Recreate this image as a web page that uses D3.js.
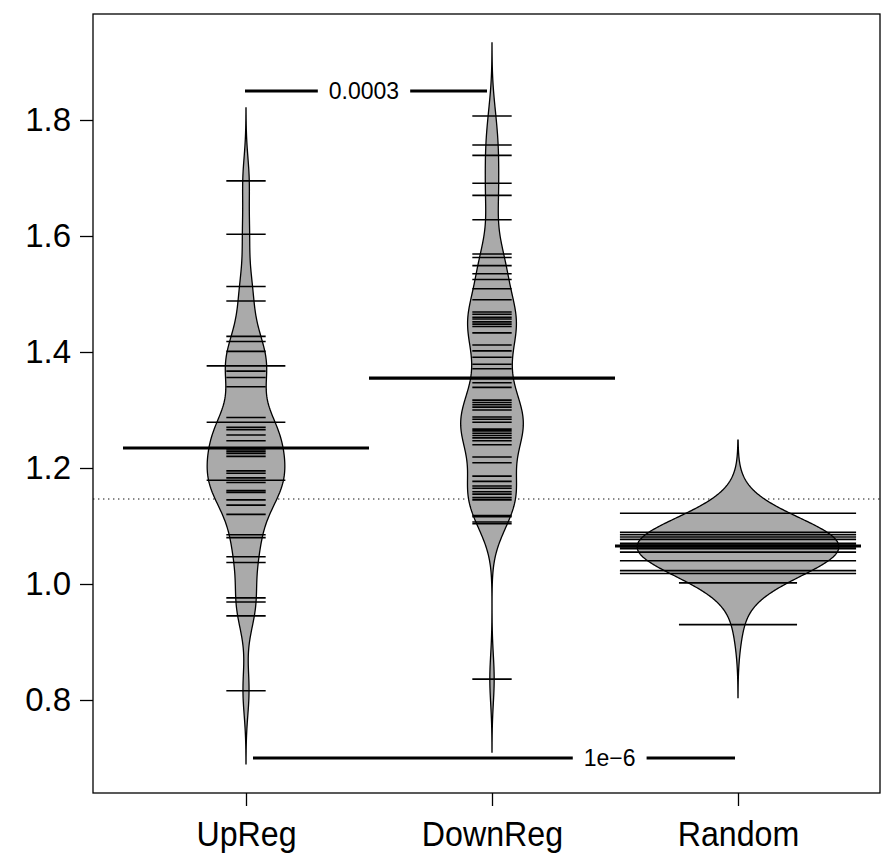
<!DOCTYPE html>
<html>
<head>
<meta charset="utf-8">
<script src="https://cdn.jsdelivr.net/npm/d3@7"></script>
<style>
body { margin: 0; background: #fff; }
svg text { font-family: "Liberation Sans", Arial, sans-serif; fill: #000; }
</style>
</head>
<body>
<div id="svgcontainer"></div>
<script>
// groups on the x axis
const categories = ["UpReg", "DownReg", "Random"];
// [value, number of observations at that value]
const upReg = [
    [1.695, 1], [1.603, 1], [1.513, 1], [1.488, 1], [1.427, 1], [1.418, 1], [1.401, 1],
    [1.376, 2], [1.367, 1], [1.356, 1], [1.340, 1], [1.287, 1], [1.279, 2], [1.270, 1],
    [1.266, 1], [1.257, 1], [1.247, 1], [1.231, 1], [1.228, 1], [1.225, 1], [1.220, 1],
    [1.195, 1], [1.191, 1], [1.183, 1], [1.179, 2], [1.175, 1], [1.161, 1], [1.158, 1],
    [1.145, 1], [1.136, 1], [1.120, 1], [1.085, 1], [1.080, 1], [1.047, 1], [1.037, 1],
    [0.976, 1], [0.969, 1], [0.945, 1], [0.816, 1]
];
const downReg = [
    [1.807, 1], [1.757, 1], [1.739, 1], [1.691, 1], [1.670, 1], [1.628, 1], [1.569, 1],
    [1.563, 1], [1.549, 1], [1.535, 1], [1.525, 1], [1.509, 1], [1.490, 1], [1.469, 1],
    [1.465, 1], [1.460, 1], [1.457, 1], [1.452, 1], [1.448, 1], [1.444, 1], [1.433, 1],
    [1.412, 1], [1.402, 1], [1.391, 1], [1.379, 1], [1.371, 1], [1.347, 1], [1.339, 1],
    [1.317, 1], [1.313, 1], [1.309, 1], [1.305, 1], [1.300, 1], [1.288, 1], [1.284, 1],
    [1.279, 1], [1.267, 1], [1.264, 1], [1.260, 1], [1.256, 1], [1.252, 1], [1.247, 1],
    [1.240, 1], [1.219, 1], [1.209, 1], [1.186, 1], [1.177, 1], [1.169, 1], [1.165, 1],
    [1.159, 1], [1.155, 1], [1.149, 1], [1.145, 1], [1.118, 1], [1.116, 1], [1.107, 1],
    [1.104, 1], [0.836, 1]
];
const random = [
    [1.122, 8], [1.089, 7], [1.085, 7], [1.081, 7], [1.077, 7], [1.070, 8], [1.067, 8],
    [1.064, 8], [1.061, 7], [1.055, 7], [1.040, 8], [1.023, 8], [1.018, 8], [1.002, 3],
    [0.930, 3]
];
const medians = [1.2345, 1.355, 1.0655];
const overallLine = 1.1466;
const yTicks = [0.8, 1.0, 1.2, 1.4, 1.6, 1.8];
// p-value brackets: from group, to group, height, label
const brackets = [
    { from: "UpReg", to: "DownReg", level: 1.85, label: "0.0003" },
    { from: "UpReg", to: "Random", level: 0.70, label: "1e\u22126" }
];
const bandwidth = 0.042;

let width = 884;
let height = 854;
let box = { left: 93, right: 880, top: 14, bottom: 793 };

let svg = d3.select("#svgcontainer")
    .append('svg')
    .attr('width', width)
    .attr('height', height);

let x = d3.scalePoint()
    .domain(categories)
    .range([246, 738]);
let y = d3.scaleLinear()
    .domain([0.8, 1.8])
    .range([700, 120]);
let step = x.step();

let groups = [upReg, downReg, random].map((data, i) => ({ name: categories[i], data: data, median: medians[i] }));

// gaussian kernel density, cut at 3 bandwidths like beanplot
groups.forEach(g => {
    let n = d3.sum(g.data, d => d[1]);
    let lo = d3.min(g.data, d => d[0]) - 3 * bandwidth;
    let hi = d3.max(g.data, d => d[0]) + 3 * bandwidth;
    g.density = d3.range(0, 301).map(k => {
        let t = lo + (hi - lo) * k / 300;
        let s = d3.sum(g.data, d => d[1] * Math.exp(-0.5 * Math.pow((t - d[0]) / bandwidth, 2)));
        return { t: t, d: s / (n * bandwidth * Math.sqrt(2 * Math.PI)) };
    });
});
let maxDensity = d3.max(groups, g => d3.max(g.density, d => d.d));
let w = d3.scaleLinear().domain([0, maxDensity]).range([0, 0.41 * step]);

// overall line (behind the beans)
svg.append('line')
    .attr('x1', box.left).attr('x2', box.right)
    .attr('y1', y(overallLine)).attr('y2', y(overallLine))
    .attr('stroke', '#111')
    .attr('stroke-width', 1.1)
    .attr('stroke-dasharray', '1.4,3.6');

let beans = svg.selectAll('g.bean')
    .data(groups)
    .enter()
    .append('g')
    .attr('class', 'bean')
    .attr('transform', d => 'translate(' + x(d.name) + ',0)');

beans.append('path')
    .attr('d', g => d3.area()
        .y(d => y(d.t))
        .x0(d => -w(d.d))
        .x1(d => w(d.d))(g.density))
    .attr('fill', '#aaaaaa')
    .attr('stroke', '#000')
    .attr('stroke-width', 1.3);

beans.each(function (g) {
    d3.select(this).selectAll('line.beanline')
        .data(g.data)
        .enter()
        .append('line')
        .attr('class', 'beanline')
        .attr('x1', d => -Math.min(d[1] * 0.16, 0.96) * step / 2)
        .attr('x2', d => Math.min(d[1] * 0.16, 0.96) * step / 2)
        .attr('y1', d => y(d[0]))
        .attr('y2', d => y(d[0]))
        .attr('stroke', '#000')
        .attr('stroke-width', 1.6);
});

beans.append('line')
    .attr('x1', -step / 2).attr('x2', step / 2)
    .attr('y1', g => y(g.median)).attr('y2', g => y(g.median))
    .attr('stroke', '#000')
    .attr('stroke-width', 3.2);

// brackets with the p-value in a gap
brackets.forEach((b, i) => {
    let x0 = x(b.from) + (i === 0 ? -1 : 7);
    let x1 = x(b.to) - (i === 0 ? 5 : 3);
    let tx = i === 0 ? (x0 + x1) / 2 - 2 : x0 + (x1 - x0) * 0.74;
    let g = svg.append('g').attr('class', 'bracket');
    g.append('line')
        .attr('x1', x0).attr('x2', x1)
        .attr('y1', y(b.level)).attr('y2', y(b.level))
        .attr('stroke', '#000')
        .attr('stroke-width', 3.2);
    let t = g.append('text')
        .attr('x', tx)
        .attr('y', y(b.level))
        .attr('dy', '0.35em')
        .attr('text-anchor', 'middle')
        .style('font-size', '23px')
        .text(b.label);
    let tw = t.node().getComputedTextLength();
    g.insert('rect', 'text')
        .attr('x', tx - tw / 2 - 11)
        .attr('width', tw + 22)
        .attr('y', y(b.level) - 5)
        .attr('height', 10)
        .attr('fill', '#fff');
});

// frame and axes
svg.append('rect')
    .attr('x', box.left).attr('y', box.top)
    .attr('width', box.right - box.left)
    .attr('height', box.bottom - box.top)
    .attr('fill', 'none')
    .attr('stroke', '#000')
    .attr('stroke-width', 1.3);

let yAxis = svg.append('g')
    .attr('class', 'yaxis axis')
    .attr('transform', 'translate(' + box.left + ',0)')
    .call(d3.axisLeft(y).tickValues(yTicks).tickSize(13).tickPadding(9).tickFormat(d3.format('.1f')));
yAxis.select('.domain').remove();
yAxis.selectAll('text').style('font-size', '33px');

let xAxis = svg.append('g')
    .attr('class', 'xaxis axis')
    .attr('transform', 'translate(0,' + box.bottom + ')')
    .call(d3.axisBottom(x).tickSize(13).tickPadding(15));
xAxis.select('.domain').remove();
xAxis.selectAll('text')
    .style('font-size', '35px')
    .attr('transform', 'scale(0.92,1)');
svg.selectAll('.axis line').attr('stroke', '#000').attr('stroke-width', 1.3);
</script>
</body>
</html>
